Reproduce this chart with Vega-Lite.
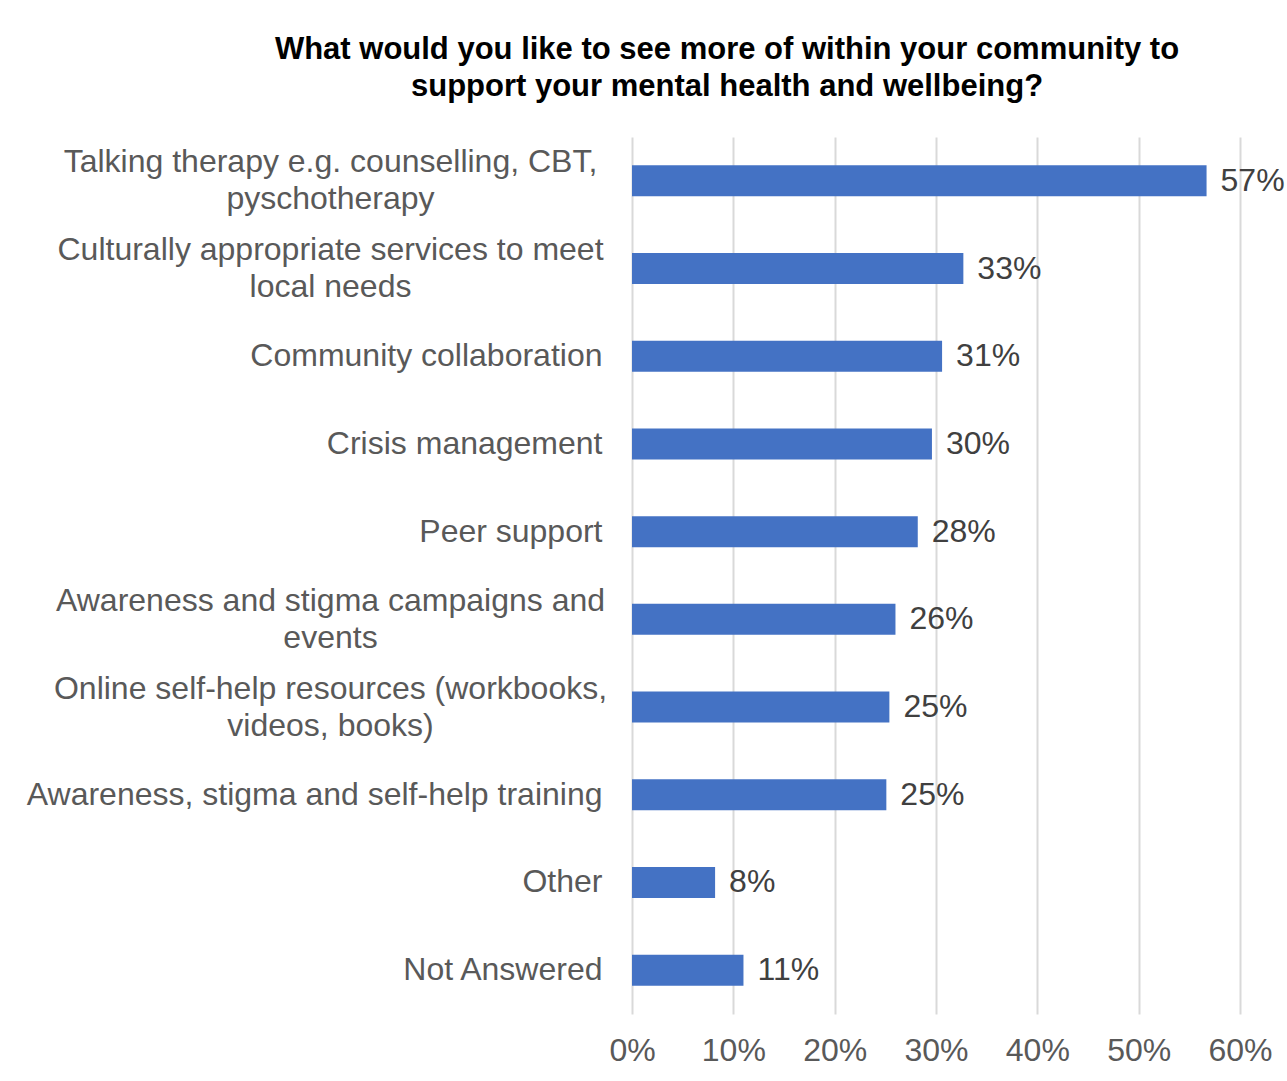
{
  "$schema": "https://vega.github.io/schema/vega-lite/v6.json",
  "width": 608,
  "height": 877,
  "autosize": {"type": "none"},
  "padding": {"left": 632, "top": 137, "right": 47, "bottom": 67},
  "background": "white",
  "title": {
    "text": ["What would you like to see more of within your community to", "support your mental health and wellbeing?"],
    "anchor": "middle",
    "frame": "group",
    "dx": -209,
    "offset": 34,
    "font": "Liberation Sans",
    "fontSize": 31,
    "fontWeight": "bold",
    "color": "#000000",
    "lineHeight": 37
  },
  "data": {
    "values": [
      {"option": "Talking therapy e.g. counselling, CBT,|pyschotherapy", "share": 0.567},
      {"option": "Culturally appropriate services to meet|local needs", "share": 0.327},
      {"option": "Community collaboration", "share": 0.306},
      {"option": "Crisis management", "share": 0.296},
      {"option": "Peer support", "share": 0.282},
      {"option": "Awareness and stigma campaigns and|events", "share": 0.26},
      {"option": "Online self-help resources (workbooks,|videos, books)", "share": 0.254},
      {"option": "Awareness, stigma and self-help training", "share": 0.251},
      {"option": "Other", "share": 0.082},
      {"option": "Not Answered", "share": 0.11}
    ]
  },
  "encoding": {
    "y": {
      "field": "option",
      "type": "nominal",
      "sort": null,
      "title": null,
      "scale": {"paddingInner": 0.647, "paddingOuter": 0.3235},
      "axis": {
        "domain": false,
        "ticks": false,
        "grid": false,
        "labelExpr": "split(datum.label, '|')",
        "labelFont": "Liberation Sans",
        "labelFontSize": 32,
        "labelColor": "#595959",
        "labelLineHeight": 37,
        "labelLimit": 800,
        "labelBaseline": "middle",
        "labelAlign": {"condition": {"test": "indexof(datum.value, '|') >= 0", "value": "center"}, "value": "right"},
        "labelPadding": {"condition": {"test": "indexof(datum.value, '|') >= 0", "value": 302}, "value": 30},
        "labelOffset": {"condition": {"test": "indexof(datum.value, '|') >= 0", "value": -18.5}, "value": 0}
      }
    },
    "x": {
      "field": "share",
      "type": "quantitative",
      "title": null,
      "scale": {"domain": [0, 0.6], "nice": false},
      "axis": {
        "values": [0, 0.1, 0.2, 0.3, 0.4, 0.5, 0.6],
        "format": ".0%",
        "domain": false,
        "ticks": false,
        "grid": true,
        "gridColor": "#d9d9d9",
        "gridWidth": 2,
        "labelFont": "Liberation Sans",
        "labelFontSize": 32,
        "labelColor": "#595959",
        "labelPadding": 21,
        "labelFlush": false
      }
    }
  },
  "layer": [
    {"mark": {"type": "bar", "color": "#4472C4"}},
    {
      "mark": {"type": "text", "align": "left", "baseline": "middle", "dx": 14, "font": "Liberation Sans", "fontSize": 32, "color": "#404040"},
      "encoding": {"text": {"field": "share", "type": "quantitative", "format": ".0%"}}
    }
  ],
  "config": {"view": {"stroke": null}}
}
